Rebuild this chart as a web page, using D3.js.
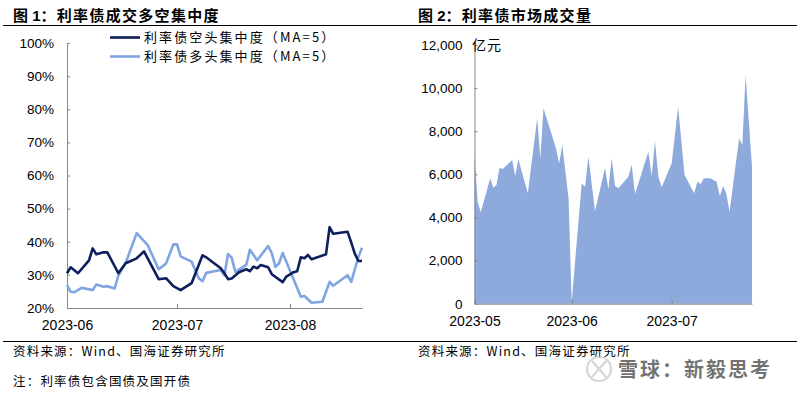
<!DOCTYPE html>
<html>
<head lang="zh">
    <meta charset="UTF-8">
    <script src="https://cdn.jsdelivr.net/npm/d3@7/dist/d3.min.js" charset="utf-8"></script>
    <style>
        body { margin: 0; background: #fff; }
        svg text { font-family: "Liberation Sans", Arial, "Noto Sans CJK SC", sans-serif; fill: #000; }
        svg text.cjk { font-family: "Noto Sans CJK SC", sans-serif; }
        .axis path, .axis line { stroke: #868686; }
    </style>
    <title></title>
</head>
<body>
<svg id="chart" width="800" height="395"></svg>

<script>
    // 图1：利率债空头/多头集中度（MA=5），单位 %
    var shortDates = ["2023-06-01","2023-06-02","2023-06-04","2023-06-07","2023-06-08","2023-06-09","2023-06-11","2023-06-12",
        "2023-06-14","2023-06-15","2023-06-17","2023-06-20","2023-06-22","2023-06-26","2023-06-28","2023-06-30",
        "2023-07-02","2023-07-05","2023-07-08","2023-07-09","2023-07-13","2023-07-14","2023-07-15","2023-07-16",
        "2023-07-18","2023-07-20","2023-07-21","2023-07-22","2023-07-23","2023-07-24","2023-07-26","2023-07-27",
        "2023-07-30","2023-07-31","2023-08-02","2023-08-03","2023-08-04","2023-08-05","2023-08-06","2023-08-07",
        "2023-08-11","2023-08-12","2023-08-13","2023-08-17","2023-08-18","2023-08-19","2023-08-20","2023-08-21"];
    var shortValues = [30.5,32.3,30.5,34.4,38.0,36.2,36.8,36.8,
        32.6,30.5,33.5,35.0,37.1,28.7,29.0,26.6,
        25.4,27.5,35.9,35.3,32.0,30.5,28.7,28.9,
        30.8,31.7,31.1,32.5,32.0,33.0,32.3,30.2,
        27.8,29.5,30.8,31.1,35.3,35.0,36.0,34.7,
        36.2,44.4,42.4,43.0,39.8,36.4,34.2,34.2];

    var longDates = ["2023-06-01","2023-06-02","2023-06-03","2023-06-05","2023-06-08","2023-06-09","2023-06-11","2023-06-12",
        "2023-06-14","2023-06-15","2023-06-17","2023-06-20","2023-06-23","2023-06-26","2023-06-28","2023-06-30",
        "2023-07-01","2023-07-02","2023-07-05","2023-07-07","2023-07-08","2023-07-09","2023-07-13","2023-07-14",
        "2023-07-15","2023-07-16","2023-07-17","2023-07-20","2023-07-21","2023-07-23","2023-07-26","2023-07-27",
        "2023-07-28","2023-07-29","2023-07-30","2023-08-04","2023-08-05","2023-08-07","2023-08-10","2023-08-12",
        "2023-08-13","2023-08-17","2023-08-18","2023-08-20","2023-08-21"];
    var longValues = [26.9,24.9,24.8,26.1,25.4,27.1,26.4,26.6,
        25.9,29.8,33.6,42.6,39.0,31.7,33.4,39.2,
        39.2,35.6,34.0,28.9,28.1,30.6,31.5,29.9,
        36.3,35.2,30.9,33.0,37.6,34.4,38.7,36.6,
        32.4,33.5,36.6,23.4,23.6,21.6,21.9,27.9,
        26.7,29.9,27.9,35.4,38.2];

    // 图2：利率债市场成交量，单位 亿元
    var volDates = ["2023-05-01","2023-05-02","2023-05-03","2023-05-06","2023-05-07","2023-05-08","2023-05-09","2023-05-10",
        "2023-05-13","2023-05-14","2023-05-15","2023-05-18","2023-05-21","2023-05-22","2023-05-23","2023-05-27",
        "2023-05-28","2023-05-29","2023-05-31","2023-06-01","2023-06-04","2023-06-05","2023-06-06","2023-06-08",
        "2023-06-11","2023-06-12","2023-06-13","2023-06-14","2023-06-15","2023-06-18","2023-06-19","2023-06-20",
        "2023-06-24","2023-06-25","2023-06-26","2023-06-27","2023-06-28","2023-07-01","2023-07-03","2023-07-05",
        "2023-07-08","2023-07-09","2023-07-10","2023-07-11","2023-07-13","2023-07-15","2023-07-16","2023-07-17",
        "2023-07-18","2023-07-19","2023-07-22","2023-07-23","2023-07-24","2023-07-26"];
    var volValues = [6900,4730,4240,5820,5380,5510,6310,6250,
        6670,5940,6700,5120,8600,6750,9070,7210,
        6520,7360,4890,100,5590,5430,6820,4300,
        6310,5310,6750,5460,5350,5890,6440,5090,
        7050,5930,7520,5890,5400,6520,9140,5970,
        5120,5660,5550,5820,5820,5660,5000,5460,
        5120,4270,7680,7360,10610,6360];

    var pctTicks = [20, 30, 40, 50, 60, 70, 80, 90, 100];
    var volTicks = [0, 2000, 4000, 6000, 8000, 10000, 12000];
    var months1 = ["2023-06-01", "2023-07-01", "2023-08-01", "2023-08-21"];
    var months2 = ["2023-05-01", "2023-06-01", "2023-07-01", "2023-07-26"];
    var seriesNames = ["利率债空头集中度（MA=5）", "利率债多头集中度（MA=5）"];

    var parseDate = d3.timeParse("%Y-%m-%d");
    var fmtMonth = d3.timeFormat("%Y-%m");
    var svg = d3.select("#chart");

    // ---- frame: rules, titles, sources ----
    svg.append("line").attr("x1", 3).attr("x2", 797).attr("y1", 25.5).attr("y2", 25.5)
        .attr("stroke", "#000").attr("stroke-width", 1);
    svg.append("line").attr("x1", 3).attr("x2", 797).attr("y1", 341.5).attr("y2", 341.5)
        .attr("stroke", "#000").attr("stroke-width", 1);

    function title(x, num, txt) {
        var t = svg.append("text").attr("x", x).attr("y", 21)
            .style("font-size", "15px").style("font-weight", "bold");
        t.append("tspan").attr("class", "cjk").text("图 ");
        t.append("tspan").text(num);
        t.append("tspan").attr("class", "cjk").style("letter-spacing", "1.3px").text("：" + txt);
    }
    title(13, "1", "利率债成交多空集中度");
    title(418, "2", "利率债市场成交量");

    function note(x, y, txt) {
        svg.append("text").attr("class", "cjk").attr("x", x).attr("y", y)
            .style("font-size", "12.5px").style("letter-spacing", "1.2px").text(txt);
    }
    note(13, 356, "资料来源：Wind、国海证券研究所");
    note(418, 356, "资料来源：Wind、国海证券研究所");
    note(13, 386, "注：利率债包含国债及国开债");

    // ---- chart 1 ----
    var x1 = d3.scaleTime().domain(months1.map(parseDate)).range([67, 177, 290, 362]);
    var y1 = d3.scaleLinear().domain([20, 100]).range([308, 43]);

    var g1 = svg.append("g");
    var yAx1 = g1.append("g").attr("class", "axis").attr("transform", "translate(67,0)")
        .call(d3.axisLeft(y1).tickValues(pctTicks).tickSize(-3).tickSizeOuter(0).tickPadding(13)
            .tickFormat(function(d) { return d + "%"; }));
    var xAx1 = g1.append("g").attr("class", "axis").attr("transform", "translate(0,308)")
        .call(d3.axisBottom(x1).tickValues(months1.slice(0, 3).map(parseDate)).tickSize(-4).tickSizeOuter(0)
            .tickFormat(fmtMonth));

    var line1 = d3.line().x(function(d) { return x1(d[0]); }).y(function(d) { return y1(d[1]); });
    var shortData = shortDates.map(function(d, i) { return [parseDate(d), shortValues[i]]; });
    var longData = longDates.map(function(d, i) { return [parseDate(d), longValues[i]]; });
    var colors1 = ["#0d1f5c", "#7fa5e2"];

    g1.append("path").datum(longData).attr("d", line1).attr("fill", "none")
        .attr("stroke", colors1[1]).attr("stroke-width", 2.6).attr("stroke-linejoin", "round");
    g1.append("path").datum(shortData).attr("d", line1).attr("fill", "none")
        .attr("stroke", colors1[0]).attr("stroke-width", 2.6).attr("stroke-linejoin", "round");

    // legend
    seriesNames.forEach(function(name, i) {
        var ly = 37.5 + i * 19;
        g1.append("line").attr("x1", 110).attr("x2", 140).attr("y1", ly).attr("y2", ly)
            .attr("stroke", colors1[i]).attr("stroke-width", 2.6);
        g1.append("text").attr("class", "cjk").attr("x", 144).attr("y", ly).attr("dy", "0.36em")
            .style("font-size", "13px").style("letter-spacing", "2.1px").text(name);
    });

    // ---- chart 2 ----
    var x2 = d3.scaleTime().domain(months2.map(parseDate)).range([474.5, 571.7, 671.7, 752]);
    var y2 = d3.scaleLinear().domain([0, 12000]).range([303.7, 45]);

    var g2 = svg.append("g");
    var volData = volDates.map(function(d, i) { return [parseDate(d), volValues[i]]; });
    g2.append("path").datum(volData).attr("fill", "#8eaadc")
        .attr("d", d3.area().x(function(d) { return x2(d[0]); }).y0(y2(0)).y1(function(d) { return y2(d[1]); }));

    var yAx2 = g2.append("g").attr("class", "axis").attr("transform", "translate(474.5,0)")
        .call(d3.axisLeft(y2).tickValues(volTicks).tickSize(-3).tickSizeOuter(0).tickPadding(12)
            .tickFormat(d3.format(",")));
    var xAx2 = g2.append("g").attr("class", "axis").attr("transform", "translate(0,303.7)")
        .call(d3.axisBottom(x2).tickValues(months2.slice(0, 3).map(parseDate)).tickSize(-4).tickSizeOuter(0)
            .tickFormat(fmtMonth));
    g2.append("text").attr("class", "cjk").attr("x", 472).attr("y", 45).attr("dy", "0.36em")
        .style("font-size", "14px").style("letter-spacing", "1px").text("亿元");

    // tick label styling
    [yAx1, yAx2].forEach(function(a) {
        a.selectAll("text").style("font-size", "13.5px").style("font-family", "'Liberation Sans', Arial, sans-serif");
    });
    [xAx1, xAx2].forEach(function(a) {
        a.selectAll("text").attr("y", 17).attr("dy", "0.35em")
            .style("font-size", "14px").style("font-family", "'Liberation Sans', Arial, sans-serif");
    });
    svg.selectAll(".axis text").attr("fill", "#000");

    // watermark
    var wm = svg.append("g").attr("opacity", 0.55);
    wm.append("circle").attr("cx", 599).attr("cy", 369).attr("r", 12)
        .attr("fill", "none").attr("stroke", "#b5b5b5").attr("stroke-width", 2.2);
    wm.append("path").attr("d", "M592,361 L606,377 M606,361 L592,377")
        .attr("stroke", "#b5b5b5").attr("stroke-width", 2.2).attr("fill", "none");
    wm.append("text").attr("class", "cjk").attr("x", 618).attr("y", 370).attr("dy", "0.36em")
        .style("font-size", "20px").style("font-weight", "bold").style("letter-spacing", "2px").attr("fill", "#a8a8a8")
        .text("雪球：新毅思考");
</script>
</body>
</html>
